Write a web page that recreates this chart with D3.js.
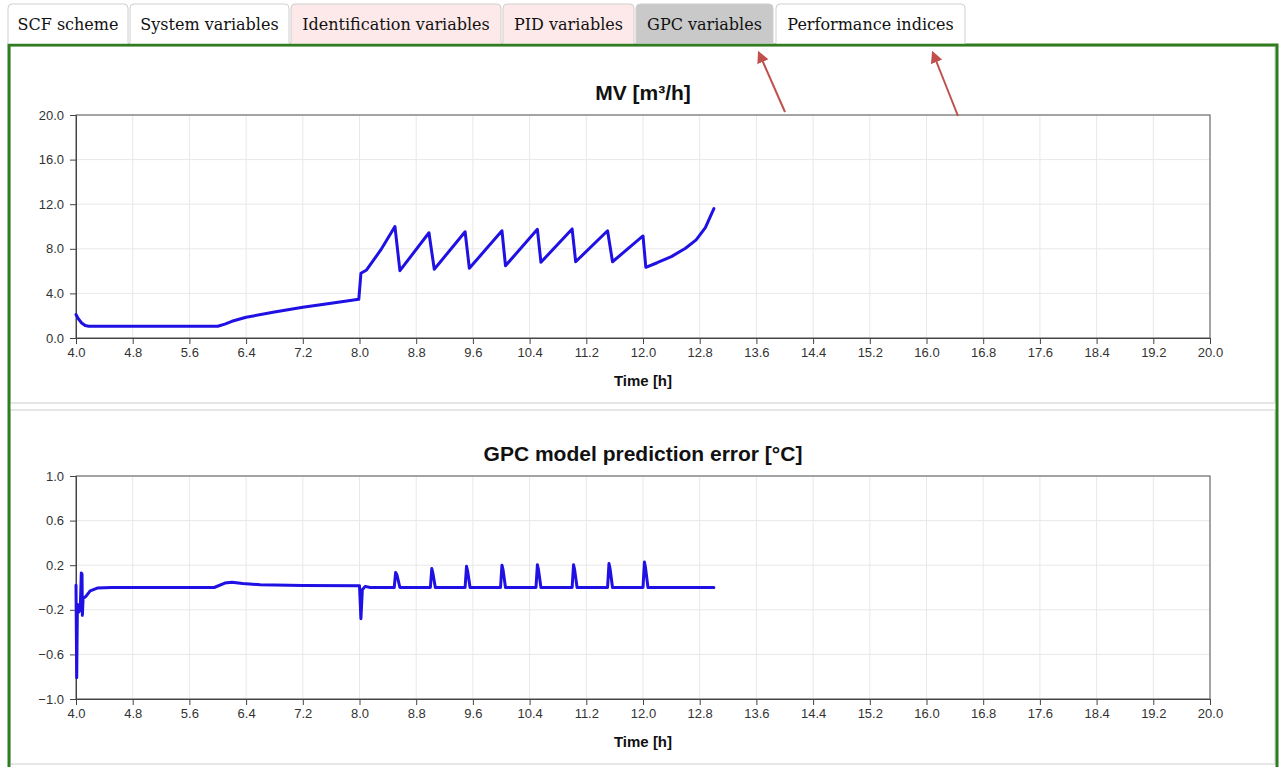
<!DOCTYPE html>
<html>
<head>
<meta charset="utf-8">
<script src="https://cdn.jsdelivr.net/npm/d3@7"></script>
<style>
  body { margin: 0; background: #fff; }
  svg { display: block; }
</style>
</head>
<body>
<svg id="page"></svg>
<script>
// tabs across the top
var tabNames = ["SCF scheme", "System variables", "Identification variables", "PID variables", "GPC variables", "Performance indices"];
var tabFills = ["#ffffff", "#ffffff", "#fde9e9", "#fde9e9", "#c9c9c9", "#ffffff"];

// x axis ticks (hours)
var xTicks = [4.0, 4.8, 5.6, 6.4, 7.2, 8.0, 8.8, 9.6, 10.4, 11.2, 12.0, 12.8, 13.6, 14.4, 15.2, 16.0, 16.8, 17.6, 18.4, 19.2, 20.0];
var mvTicks = [0, 4, 8, 12, 16, 20];
var errTicks = [-1.0, -0.6, -0.2, 0.2, 0.6, 1.0];

// MV [m3/h]
var mvTime = [4.0, 4.03, 4.08, 4.13, 4.18, 6.0, 6.1, 6.2, 6.4, 6.8, 7.2, 7.6, 7.99, 8.02, 8.1, 8.3, 8.5, 8.57, 8.98, 9.055, 9.49, 9.55, 10.01, 10.06, 10.51, 10.56, 11.0, 11.05, 11.5, 11.57, 12.0, 12.04, 12.2, 12.4, 12.6, 12.75, 12.88, 13.0];
var mvValue = [2.1, 1.75, 1.35, 1.12, 1.05, 1.05, 1.25, 1.5, 1.86, 2.33, 2.75, 3.12, 3.47, 5.8, 6.1, 7.9, 10.0, 6.04, 9.44, 6.16, 9.53, 6.25, 9.62, 6.48, 9.75, 6.79, 9.78, 6.84, 9.62, 6.84, 9.15, 6.34, 6.75, 7.3, 8.05, 8.8, 9.9, 11.6];

// GPC model prediction error [degC]
var errTime = [4.0, 4.01, 4.02, 4.04, 4.06, 4.075, 4.085, 4.09, 4.1, 4.14, 4.2, 4.3, 4.5, 5.95, 6.1, 6.2, 6.35, 6.6, 7.2, 8.0, 8.02, 8.04, 8.08, 8.15,
  8.49, 8.51, 8.53, 8.57,
  9.0, 9.02, 9.035, 9.07,
  9.49, 9.51, 9.525, 9.56,
  9.99, 10.01, 10.025, 10.06,
  10.49, 10.51, 10.525, 10.56,
  11.0, 11.02, 11.035, 11.07,
  11.5, 11.52, 11.535, 11.57,
  12.0, 12.02, 12.035, 12.07,
  13.0];
var errValue = [0.02, -0.81, -0.15, -0.22, -0.2, 0.13, 0.12, -0.25, -0.1, -0.08, -0.03, -0.005, 0.0, 0.0, 0.04, 0.048, 0.035, 0.025, 0.018, 0.015, -0.28, -0.02, 0.01, 0.0,
  0.0, 0.135, 0.11, 0.0,
  0.0, 0.17, 0.13, 0.0,
  0.0, 0.19, 0.15, 0.0,
  0.0, 0.2, 0.16, 0.0,
  0.0, 0.204, 0.16, 0.0,
  0.0, 0.204, 0.16, 0.0,
  0.0, 0.215, 0.17, 0.0,
  0.0, 0.228, 0.18, 0.0,
  0.0];

var W = 1279, H = 767;
var svg = d3.select("#page").attr("width", W).attr("height", H);

// panels
svg.append("rect").attr("x", 10).attr("y", 46).attr("width", 1265).attr("height", 357)
  .attr("fill", "#fff").attr("stroke", "#e6e6e6").attr("stroke-width", 2);
svg.append("rect").attr("x", 10).attr("y", 410).attr("width", 1265).attr("height", 354)
  .attr("fill", "#fff").attr("stroke", "#e6e6e6").attr("stroke-width", 2);

// green frame
svg.append("path")
  .attr("d", "M9,770 L9,45 L1277,45 L1277,770")
  .attr("fill", "none").attr("stroke", "#2f7d1f").attr("stroke-width", 3);

// tabs
var tabX = [8, 130, 291, 503, 636, 776];
var tabW = [120, 159, 210, 131, 137, 189];
var tabs = svg.append("g");
tabNames.forEach(function (name, i) {
  var x = tabX[i], w = tabW[i], r = 4;
  tabs.append("path")
    .attr("d", `M${x},43.5 L${x},${4 + r} Q${x},4 ${x + r},4 L${x + w - r},4 Q${x + w},4 ${x + w},${4 + r} L${x + w},43.5`)
    .attr("fill", tabFills[i]).attr("stroke", "#cfcfcf").attr("stroke-width", 1);
  tabs.append("text")
    .attr("x", x + w / 2).attr("y", 29.5)
    .attr("text-anchor", "middle")
    .style("font-family", "'DejaVu Serif', serif").style("font-size", "16px")
    .style("fill", "#111")
    .text(name);
});

var x = d3.scaleLinear().domain([4, 20]).range([76, 1210]);

function drawChart(opts) {
  var y = d3.scaleLinear().domain(opts.domain).range([opts.bottom, opts.top]);
  var g = svg.append("g");

  // grid
  g.append("g").selectAll("line").data(xTicks).enter().append("line")
    .attr("x1", d => x(d)).attr("x2", d => x(d))
    .attr("y1", opts.top).attr("y2", opts.bottom)
    .attr("stroke", "#e8e8e8").attr("stroke-width", 1);
  g.append("g").selectAll("line").data(opts.ticks).enter().append("line")
    .attr("x1", 76).attr("x2", 1210)
    .attr("y1", d => y(d)).attr("y2", d => y(d))
    .attr("stroke", "#e8e8e8").attr("stroke-width", 1);

  // frame
  g.append("rect").attr("x", 76).attr("y", opts.top)
    .attr("width", 1210 - 76).attr("height", opts.bottom - opts.top)
    .attr("fill", "none").attr("stroke", "#555").attr("stroke-width", 1);

  var xAxis = g.append("g").attr("transform", `translate(0,${opts.bottom})`)
    .call(d3.axisBottom(x).tickValues(xTicks).tickFormat(d3.format(".1f")).tickSize(6).tickPadding(4));
  var yAxis = g.append("g").attr("transform", "translate(76,0)")
    .call(d3.axisLeft(y).tickValues(opts.ticks).tickFormat(d3.format(".1f")).tickSize(6).tickPadding(6));
  [xAxis, yAxis].forEach(function (a) {
    a.select(".domain").attr("stroke", "#444");
    a.selectAll(".tick line").attr("stroke", "#444");
    a.selectAll(".tick text")
      .style("font-family", "'Liberation Sans', Arial, sans-serif")
      .style("font-size", "13px").style("fill", "#333");
  });

  // series
  var pts = opts.t.map((t, i) => [t, opts.v[i]]);
  g.append("path").datum(pts)
    .attr("d", d3.line().x(d => x(d[0])).y(d => y(d[1])))
    .attr("fill", "none").attr("stroke", "#1f10e3")
    .attr("stroke-width", 3).attr("stroke-linejoin", "round").attr("stroke-linecap", "round");

  g.append("text").attr("x", 643).attr("y", opts.top - 15)
    .attr("text-anchor", "middle")
    .style("font-family", "'Liberation Sans', Arial, sans-serif")
    .style("font-weight", "bold").style("font-size", "21px").style("fill", "#111")
    .text(opts.title);
  g.append("text").attr("x", 643).attr("y", opts.bottom + 48)
    .attr("text-anchor", "middle")
    .style("font-family", "'Liberation Sans', Arial, sans-serif")
    .style("font-weight", "bold").style("font-size", "15px").style("fill", "#111")
    .text("Time [h]");
}

drawChart({ title: "MV [m\u00b3/h]", domain: [0, 20], ticks: mvTicks, top: 115, bottom: 338, t: mvTime, v: mvValue });
drawChart({ title: "GPC model prediction error [\u00b0C]", domain: [-1, 1], ticks: errTicks, top: 476, bottom: 699, t: errTime, v: errValue });

// annotation arrows
var defs = svg.append("defs");
defs.append("marker").attr("id", "head")
  .attr("viewBox", "0 0 10 10").attr("refX", 8).attr("refY", 5)
  .attr("markerWidth", 6).attr("markerHeight", 6).attr("orient", "auto")
  .append("path").attr("d", "M0,0 L10,5 L0,10 z").attr("fill", "#c0504d");
[[785, 112, 759, 53], [958, 116, 933, 53]].forEach(function (a) {
  svg.append("line").attr("x1", a[0]).attr("y1", a[1]).attr("x2", a[2]).attr("y2", a[3])
    .attr("stroke", "#c0504d").attr("stroke-width", 2).attr("marker-end", "url(#head)");
});
</script>
</body>
</html>
